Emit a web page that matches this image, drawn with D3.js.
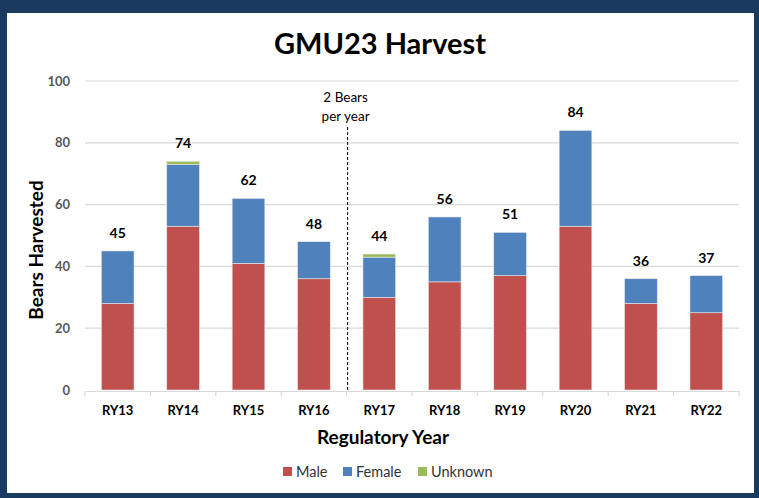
<!DOCTYPE html>
<html>
<head>
<meta charset="utf-8">
<script src="https://cdn.jsdelivr.net/npm/d3@7"></script>
<style>
  html, body { margin: 0; padding: 0; background: #1b3a5f; }
  svg { display: block; }
</style>
</head>
<body>
<svg id="chart" width="759" height="498"></svg>
<script>
// Harvest by regulatory year, split by sex
const years   = ["RY13", "RY14", "RY15", "RY16", "RY17", "RY18", "RY19", "RY20", "RY21", "RY22"];
const male    = [28, 53, 41, 36, 30, 35, 37, 53, 28, 25];
const female  = [17, 20, 21, 12, 13, 21, 14, 31,  8, 12];
const unknown = [ 0,  1,  0,  0,  1,  0,  0,  0,  0,  0];
const totals  = [45, 74, 62, 48, 44, 56, 51, 84, 36, 37];
const yTicks  = [0, 20, 40, 60, 80, 100];
const seriesNames  = ["Male", "Female", "Unknown"];
const seriesColors = ["#c0504d", "#4f81bd", "#9bbb59"];

const FONT = "Lato, 'Open Sans', sans-serif";
const svg = d3.select("#chart");

// white panel inside the navy frame
svg.append("rect").attr("x", 7).attr("y", 13).attr("width", 747).attr("height", 480).attr("fill", "#ffffff");

const plot = { left: 85, right: 739, top: 81, bottom: 390 };

const x = d3.scaleBand().domain(years).range([plot.left, plot.right]).paddingInner(0.5).paddingOuter(0.25);
const xb = d3.scaleBand().domain(years).range([plot.left, plot.right]);
const y = d3.scaleLinear().domain([0, 100]).range([plot.bottom, plot.top]);

// gridlines
svg.append("g").selectAll("line").data(yTicks.filter(t => t > 0)).join("line")
  .attr("x1", plot.left).attr("x2", plot.right)
  .attr("y1", d => y(d)).attr("y2", d => y(d))
  .attr("stroke", "#d9d9d9").attr("stroke-width", 1.2);

// y tick labels
svg.append("g").selectAll("text").data(yTicks).join("text")
  .attr("x", 70).attr("y", d => y(d)).attr("dy", "0.35em")
  .attr("text-anchor", "end")
  .attr("font-family", FONT).attr("font-weight", "bold").attr("font-size", 13)
  .attr("fill", "#595959").text(d => d);

// stacked bars
const rows = years.map((yr, i) => ({ year: yr, Male: male[i], Female: female[i], Unknown: unknown[i] }));
const stack = d3.stack().keys(seriesNames)(rows);
const color = d3.scaleOrdinal().domain(seriesNames).range(seriesColors);

svg.append("g").selectAll("g").data(stack).join("g")
  .attr("fill", d => color(d.key))
  .selectAll("rect").data(d => d.filter(s => s[1] > s[0])).join("rect")
  .attr("x", d => x(d.data.year))
  .attr("width", x.bandwidth())
  .attr("y", d => y(d[1]))
  .attr("height", d => y(d[0]) - y(d[1]))
  .attr("stroke", "#e8e8e8").attr("stroke-width", 0.6);

// x axis baseline with category separators
const xAxis = d3.axisBottom(xb).tickSize(0).tickFormat("");
const gx = svg.append("g").attr("transform", `translate(0,${plot.bottom + 1})`).call(xAxis);
gx.select(".domain").attr("stroke", "#d9d9d9").attr("stroke-width", 1.2);
svg.append("g").selectAll("line").data(d3.range(years.length + 1)).join("line")
  .attr("x1", i => plot.left + i * xb.step()).attr("x2", i => plot.left + i * xb.step())
  .attr("y1", plot.bottom + 1).attr("y2", plot.bottom + 6)
  .attr("stroke", "#d9d9d9").attr("stroke-width", 1.2);

// category labels
svg.append("g").selectAll("text").data(years).join("text")
  .attr("x", d => xb(d) + xb.bandwidth() / 2).attr("y", 415)
  .attr("text-anchor", "middle")
  .attr("font-family", FONT).attr("font-weight", "bold").attr("font-size", 13)
  .attr("fill", "#000").text(d => d);

// total labels
svg.append("g").selectAll("text").data(years).join("text")
  .attr("x", d => x(d) + x.bandwidth() / 2)
  .attr("y", (d, i) => y(totals[i]) - 18).attr("dy", "0.35em")
  .attr("text-anchor", "middle")
  .attr("font-family", FONT).attr("font-weight", "bold").attr("font-size", 14)
  .attr("fill", "#000").text((d, i) => totals[i]);

// regulation change marker
const divX = xb("RY17") + 1;
svg.append("line")
  .attr("x1", divX).attr("x2", divX).attr("y1", 127).attr("y2", plot.bottom)
  .attr("stroke", "#000").attr("stroke-width", 1).attr("stroke-dasharray", "3,2");
svg.append("text").attr("x", divX - 2).attr("y", 102).attr("text-anchor", "middle")
  .attr("font-family", FONT).attr("font-size", 13.5).attr("fill", "#000").text("2 Bears");
svg.append("text").attr("x", divX - 2).attr("y", 121).attr("text-anchor", "middle")
  .attr("font-family", FONT).attr("font-size", 13.5).attr("fill", "#000").text("per year");

// title
svg.append("text").attr("x", 380).attr("y", 54).attr("text-anchor", "middle")
  .attr("font-family", FONT).attr("font-weight", "bold").attr("font-size", 29)
  .attr("fill", "#000").text("GMU23 Harvest");

// axis titles
svg.append("text").attr("transform", "translate(43,250) rotate(-90)")
  .attr("text-anchor", "middle")
  .attr("font-family", FONT).attr("font-weight", "bold").attr("font-size", 19)
  .attr("fill", "#000").text("Bears Harvested");
svg.append("text").attr("x", 383).attr("y", 444).attr("text-anchor", "middle")
  .attr("font-family", FONT).attr("font-weight", "bold").attr("font-size", 19)
  .attr("fill", "#000").text("Regulatory Year");

// legend
const legendX = [283, 343, 418];
const lg = svg.append("g").selectAll("g").data(seriesNames).join("g")
  .attr("transform", (d, i) => `translate(${legendX[i]},467)`);
lg.append("rect").attr("width", 9).attr("height", 9).attr("fill", d => color(d));
lg.append("text").attr("x", 13).attr("y", 9.5)
  .attr("font-family", FONT).attr("font-size", 14.5).attr("fill", "#333").text(d => d);
</script>
</body>
</html>
